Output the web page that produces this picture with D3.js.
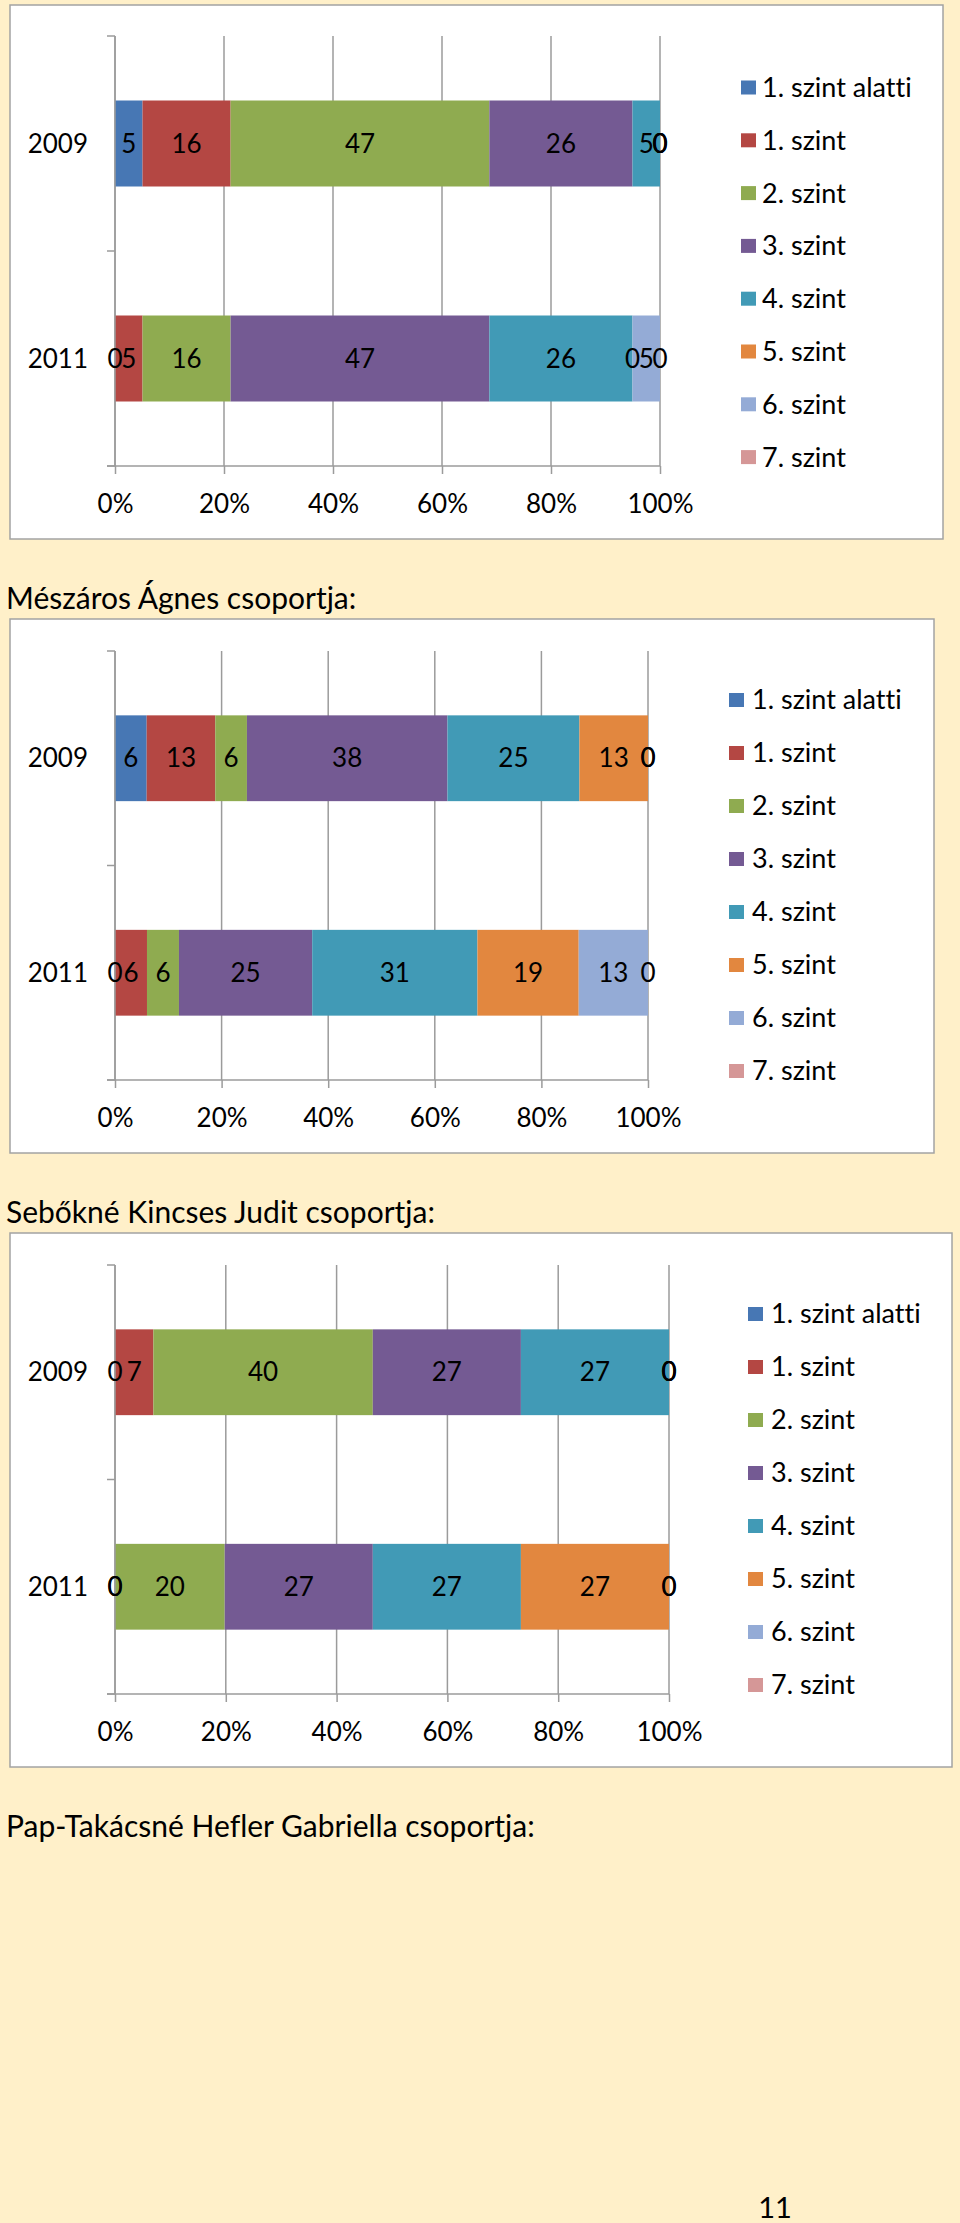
<!DOCTYPE html>
<html>
<head>
<meta charset="utf-8">
<script src="https://cdn.jsdelivr.net/npm/d3@7"></script>
<style>
  body { margin: 0; background: #fff0c9; }
  svg { display: block; font-family: Lato, "Open Sans", sans-serif; font-variant-ligatures: none; }
</style>
</head>
<body>
<div id="page"></div>
<script>
// levels (legend order = stacking order)
var series = ['1. szint alatti', '1. szint', '2. szint', '3. szint', '4. szint', '5. szint', '6. szint', '7. szint'];
var years = ['2009', '2011'];
var colors = ['#4777b4', '#b44743', '#8fab50', '#745a93', '#419ab6', '#e2873f', '#94abd6', '#d59797'];
var xTickValues = [0, 0.2, 0.4, 0.6, 0.8, 1];

// first group (title is on the previous page)
var group1_2009 = [5, 16, 47, 26, 5, 0, 0, 0];
var group1_2011 = [0, 5, 16, 47, 26, 0, 5, 0];
// Mészáros Ágnes
var group2_2009 = [6, 13, 6, 38, 25, 13, 0, 0];
var group2_2011 = [0, 6, 6, 25, 31, 19, 13, 0];
// Sebőkné Kincses Judit
var group3_2009 = [0, 7, 40, 27, 27, 0, 0, 0];
var group3_2011 = [0, 0, 20, 27, 27, 27, 0, 0];

var titles = ['Mészáros Ágnes csoportja:', 'Sebőkné Kincses Judit csoportja:', 'Pap-Takácsné Hefler Gabriella csoportja:'];
var pageNumber = '11';

var gridColor = '#9b9b9b';
var fontSize = 26;
var legendFontSize = 27;

var svg = d3.select('#page').append('svg')
  .attr('width', 960)
  .attr('height', 2223);

function drawChart(values, box, plot, leg) {
  var g = svg.append('g');

  // white chart area with grey frame
  g.append('rect')
    .attr('x', box.x).attr('y', box.y)
    .attr('width', box.w).attr('height', box.h)
    .attr('fill', '#fff')
    .attr('stroke', '#a3a3a3')
    .attr('stroke-width', 1.5);

  var x = d3.scaleLinear().domain([0, 1]).range([plot.x0, plot.x1]);
  var y = d3.scaleBand().domain(years).range([plot.y0, plot.y1])
    .paddingInner(0.6).paddingOuter(0.3);

  // vertical gridlines
  g.selectAll('line.grid')
    .data(xTickValues)
    .enter()
    .append('line')
    .attr('x1', function (d) { return x(d); })
    .attr('x2', function (d) { return x(d); })
    .attr('y1', plot.y0)
    .attr('y2', plot.y1)
    .attr('stroke', gridColor)
    .attr('stroke-width', 1.5);

  // 100% stacked bars
  var table = years.map(function (yr, i) {
    var row = { year: yr };
    series.forEach(function (s, j) { row[s] = values[i][j]; });
    return row;
  });
  var stacked = d3.stack().keys(series).offset(d3.stackOffsetExpand)(table);

  var layers = g.selectAll('g.layer')
    .data(stacked)
    .enter()
    .append('g')
    .attr('fill', function (d, i) { return colors[i]; });

  layers.selectAll('rect')
    .data(function (d) { return d; })
    .enter()
    .append('rect')
    .attr('x', function (d) { return x(d[0]); })
    .attr('width', function (d) { return x(d[1]) - x(d[0]); })
    .attr('y', function (d) { return y(d.data.year); })
    .attr('height', y.bandwidth());

  // left axis with ticks on the category boundaries
  var bounds = d3.range(years.length + 1).map(function (i) {
    return plot.y0 + i * (plot.y1 - plot.y0) / years.length;
  });
  g.append('line')
    .attr('x1', x(0)).attr('x2', x(0))
    .attr('y1', plot.y0).attr('y2', plot.y1)
    .attr('stroke', gridColor).attr('stroke-width', 1.5);
  g.selectAll('line.ytick')
    .data(bounds)
    .enter()
    .append('line')
    .attr('x1', x(0) - 8).attr('x2', x(0))
    .attr('y1', function (d) { return d; })
    .attr('y2', function (d) { return d; })
    .attr('stroke', gridColor).attr('stroke-width', 1.5);

  g.selectAll('text.cat')
    .data(years)
    .enter()
    .append('text')
    .attr('x', x(0) - 27)
    .attr('y', function (d) { return y(d) + y.bandwidth() / 2; })
    .attr('dy', '0.35em')
    .attr('text-anchor', 'end')
    .attr('font-size', fontSize)
    .text(function (d) { return d; });

  // bottom axis
  var axis = g.append('g')
    .attr('transform', 'translate(0,' + plot.y1 + ')')
    .call(d3.axisBottom(x)
      .tickValues(xTickValues)
      .tickFormat(d3.format('.0%'))
      .tickSize(8)
      .tickSizeOuter(0)
      .tickPadding(21));
  axis.select('.domain').remove();
  axis.selectAll('line').attr('stroke', gridColor).attr('stroke-width', 1.5);
  axis.selectAll('text')
    .attr('font-family', 'Lato, sans-serif')
    .attr('font-size', fontSize)
    .attr('fill', '#000');
  g.append('line')
    .attr('x1', x(0) - 8).attr('x2', x(1))
    .attr('y1', plot.y1).attr('y2', plot.y1)
    .attr('stroke', gridColor).attr('stroke-width', 1.5);

  // data labels, drawn above all bars (zeros included)
  var points = [];
  stacked.forEach(function (layer) {
    layer.forEach(function (p) { points.push({ p: p, key: layer.key }); });
  });
  g.append('g').selectAll('text')
    .data(points)
    .enter()
    .append('text')
    .attr('x', function (d) { return x((d.p[0] + d.p[1]) / 2); })
    .attr('y', function (d) { return y(d.p.data.year) + y.bandwidth() / 2; })
    .attr('dy', '0.35em')
    .attr('text-anchor', 'middle')
    .attr('font-size', fontSize)
    .attr('fill', '#000')
    .text(function (d) { return d.p.data[d.key]; });

  // legend
  var items = g.selectAll('g.leg')
    .data(series)
    .enter()
    .append('g')
    .attr('transform', function (d, i) { return 'translate(0,' + (leg.y0 + i * leg.step) + ')'; });
  items.append('rect')
    .attr('x', leg.sx).attr('y', -7)
    .attr('width', 15).attr('height', 14)
    .attr('fill', function (d, i) { return colors[i]; });
  items.append('text')
    .attr('x', leg.tx)
    .attr('dy', '0.35em')
    .attr('font-size', legendFontSize)
    .text(function (d) { return d; });
}

drawChart([group1_2009, group1_2011],
  { x: 10, y: 5, w: 933, h: 534 },
  { x0: 115, x1: 660, y0: 36, y1: 466 },
  { sx: 741, tx: 762, y0: 87.5, step: 52.8 });

drawChart([group2_2009, group2_2011],
  { x: 10, y: 619, w: 924, h: 534 },
  { x0: 115, x1: 648, y0: 651, y1: 1080 },
  { sx: 729, tx: 752, y0: 700, step: 53 });

drawChart([group3_2009, group3_2011],
  { x: 10, y: 1233, w: 942, h: 534 },
  { x0: 115, x1: 669, y0: 1265, y1: 1694 },
  { sx: 748, tx: 771, y0: 1314, step: 53 });

// group titles
svg.selectAll('text.title')
  .data(titles)
  .enter()
  .append('text')
  .attr('x', 6)
  .attr('y', function (d, i) { return [609, 1223, 1837][i]; })
  .attr('font-size', 30)
  .text(function (d) { return d; });

svg.append('text')
  .attr('x', 775)
  .attr('y', 2218)
  .attr('text-anchor', 'middle')
  .attr('font-size', 29)
  .text(pageNumber);
</script>
</body>
</html>
